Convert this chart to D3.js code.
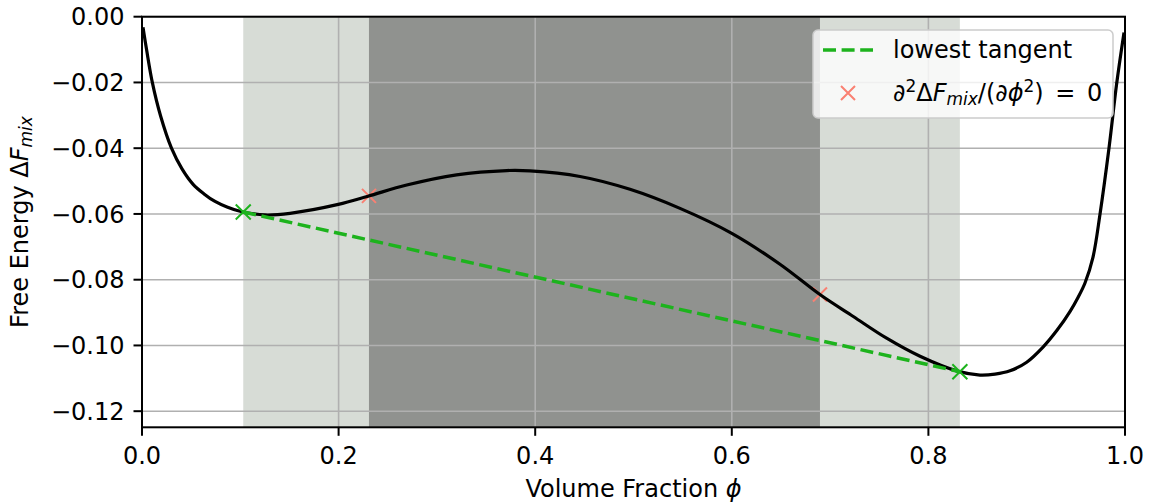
<!DOCTYPE html>
<html>
<head>
<meta charset="utf-8">
<script src="https://cdn.jsdelivr.net/npm/d3@7"></script>
<style>
body { margin:0; background:#fff; }
text { font-family: "DejaVu Sans", sans-serif; }
</style>
</head>
<body>
<div id="chart"></div>
<script>
// free energy curve
var phi = [0.001, 0.0048, 0.0105, 0.019, 0.030, 0.0407, 0.052, 0.0631, 0.0743, 0.0865, 0.0997, 0.125, 0.1506, 0.1997, 0.2300, 0.2693, 0.320, 0.371, 0.3947, 0.4456, 0.4964, 0.5473, 0.600, 0.649, 0.690, 0.7236, 0.7575, 0.7915, 0.8304, 0.8525, 0.8678, 0.883, 0.900, 0.9166, 0.9308, 0.944, 0.9522, 0.9593, 0.9674, 0.9746, 0.9837, 0.9915, 0.9990]
var freeEnergy = [-0.0032, -0.0103, -0.0200, -0.0303, -0.0400, -0.0463, -0.0510, -0.0539, -0.0562, -0.0579, -0.0592, -0.0603, -0.0598, -0.0571, -0.0546, -0.0512, -0.0481, -0.0468, -0.0469, -0.0486, -0.0525, -0.0583, -0.0659, -0.0753, -0.0846, -0.0912, -0.0978, -0.1033, -0.1079, -0.1090, -0.1087, -0.1077, -0.1051, -0.1005, -0.0954, -0.0897, -0.0854, -0.0810, -0.0732, -0.0600, -0.0400, -0.0204, -0.0048]

var binodalPhi = [0.103, 0.832]
var binodalF = [-0.0594, -0.1080]
var spinodalPhi = [0.2309, 0.6897]
var spinodalF = [-0.0545, -0.0845]

var xTicks = [0, 0.2, 0.4, 0.6, 0.8, 1.0]
var xTickLabels = ["0.0", "0.2", "0.4", "0.6", "0.8", "1.0"]
var yTicks = [0, -0.02, -0.04, -0.06, -0.08, -0.10, -0.12]
var yTickLabels = ["0.00", "\u22120.02", "\u22120.04", "\u22120.06", "\u22120.08", "\u22120.10", "\u22120.12"]

var green = "#1db31d"
var salmon = "#fa8072"

var W = 1151, H = 504
var pLeft = 142, pRight = 1125, pTop = 16.7, pBottom = 427.3

var x = d3.scaleLinear().domain([0, 1]).range([pLeft, pRight])
var y = d3.scaleLinear().domain([-0.1249, 0]).range([pBottom, pTop])

var svg = d3.select("#chart").append("svg").attr("width", W).attr("height", H)

svg.append("clipPath").attr("id", "clip")
	.append("rect").attr("x", pLeft).attr("y", pTop).attr("width", pRight - pLeft).attr("height", pBottom - pTop)

var plot = svg.append("g").attr("clip-path", "url(#clip)")

// two-phase region (binodal) and unstable region (spinodal)
plot.append("rect")
	.attr("x", x(binodalPhi[0])).attr("y", pTop)
	.attr("width", x(binodalPhi[1]) - x(binodalPhi[0])).attr("height", pBottom - pTop)
	.attr("fill", "#d7dcd6")
plot.append("rect")
	.attr("x", x(spinodalPhi[0])).attr("y", pTop)
	.attr("width", x(spinodalPhi[1]) - x(spinodalPhi[0])).attr("height", pBottom - pTop)
	.attr("fill", "#90928f")

// grid
plot.selectAll(".vgrid").data(xTicks).enter().append("line")
	.attr("x1", function(d){ return x(d) }).attr("x2", function(d){ return x(d) })
	.attr("y1", pTop).attr("y2", pBottom)
	.attr("stroke", "#b0b0b0").attr("stroke-width", 1.6)
plot.selectAll(".hgrid").data(yTicks).enter().append("line")
	.attr("y1", function(d){ return y(d) }).attr("y2", function(d){ return y(d) })
	.attr("x1", pLeft).attr("x2", pRight)
	.attr("stroke", "#b0b0b0").attr("stroke-width", 1.6)

function cross(g, cx, cy, r, color, w){
	g.append("path")
		.attr("d", "M" + (cx - r) + "," + (cy - r) + "L" + (cx + r) + "," + (cy + r) + "M" + (cx - r) + "," + (cy + r) + "L" + (cx + r) + "," + (cy - r))
		.attr("stroke", color).attr("stroke-width", w).attr("fill", "none")
}

// spinodal points
spinodalPhi.forEach(function(p, i){ cross(plot, x(p), y(spinodalF[i]), 7, salmon, 2) })

// free energy curve
var curve = phi.map(function(p, i){ return [p, freeEnergy[i]] })
var line = d3.line()
	.x(function(d){ return x(d[0]) })
	.y(function(d){ return y(d[1]) })
	.curve(d3.curveCatmullRom.alpha(0.5))
plot.append("path").datum(curve)
	.attr("d", line)
	.attr("fill", "none").attr("stroke", "#000").attr("stroke-width", 3.2)

// lowest tangent
plot.append("line")
	.attr("x1", x(binodalPhi[0])).attr("y1", y(binodalF[0]))
	.attr("x2", x(binodalPhi[1])).attr("y2", y(binodalF[1]))
	.attr("stroke", green).attr("stroke-width", 3.5).attr("stroke-dasharray", "13,5.6")

binodalPhi.forEach(function(p, i){ cross(plot, x(p), y(binodalF[i]), 7.5, green, 2) })

// axes frame
svg.append("rect").attr("x", pLeft).attr("y", pTop).attr("width", pRight - pLeft).attr("height", pBottom - pTop)
	.attr("fill", "none").attr("stroke", "#000").attr("stroke-width", 2)

// ticks
svg.selectAll(".xt").data(xTicks).enter().append("line")
	.attr("x1", function(d){ return x(d) }).attr("x2", function(d){ return x(d) })
	.attr("y1", pBottom).attr("y2", pBottom + 8.5)
	.attr("stroke", "#000").attr("stroke-width", 2)
svg.selectAll(".xl").data(xTicks).enter().append("text")
	.attr("x", function(d){ return x(d) }).attr("y", 464)
	.attr("text-anchor", "middle").attr("font-size", "24px")
	.text(function(d, i){ return xTickLabels[i] })
svg.selectAll(".yt").data(yTicks).enter().append("line")
	.attr("y1", function(d){ return y(d) }).attr("y2", function(d){ return y(d) })
	.attr("x1", pLeft - 8.5).attr("x2", pLeft)
	.attr("stroke", "#000").attr("stroke-width", 2)
svg.selectAll(".yl").data(yTicks).enter().append("text")
	.attr("x", 124.5).attr("y", function(d){ return y(d) + 8.7 })
	.attr("text-anchor", "end").attr("font-size", "24px")
	.text(function(d, i){ return yTickLabels[i] })

// axis labels
var xl = svg.append("text").attr("x", (pLeft + pRight) / 2).attr("y", 497)
	.attr("text-anchor", "middle").attr("font-size", "24px")
xl.append("tspan").text("Volume Fraction ")
xl.append("tspan").attr("font-style", "italic").text("\u03d5")

var yl = svg.append("text")
	.attr("transform", "translate(28," + (pTop + pBottom) / 2 + ") rotate(-90)")
	.attr("text-anchor", "middle").attr("font-size", "24px")
yl.append("tspan").text("Free Energy \u0394")
yl.append("tspan").attr("font-style", "italic").text("F")
yl.append("tspan").attr("font-style", "italic").attr("font-size", "17px").attr("dy", 4).text("mix")

// legend
var lg = svg.append("g")
lg.append("rect").attr("x", 813).attr("y", 30).attr("width", 300).attr("height", 88).attr("rx", 5)
	.attr("fill", "#fff").attr("fill-opacity", 0.8).attr("stroke", "#cccccc").attr("stroke-width", 1.5)
lg.append("line").attr("x1", 823).attr("x2", 873).attr("y1", 50).attr("y2", 50)
	.attr("stroke", green).attr("stroke-width", 3.5).attr("stroke-dasharray", "13,5.6")
cross(lg, 848, 93, 7, salmon, 2)
lg.append("text").attr("x", 893).attr("y", 58.3).attr("font-size", "24px").text("lowest tangent")
var t2 = lg.append("text").attr("x", 893).attr("y", 100.5).attr("font-size", "24px")
t2.append("tspan").text("\u2202")
t2.append("tspan").attr("font-size", "17px").attr("dy", -9).text("2")
t2.append("tspan").attr("dy", 9).text("\u0394")
t2.append("tspan").attr("font-style", "italic").text("F")
t2.append("tspan").attr("font-style", "italic").attr("font-size", "17px").attr("dy", 4).text("mix")
t2.append("tspan").attr("dy", -4).text("/(\u2202")
t2.append("tspan").attr("font-style", "italic").text("\u03d5")
t2.append("tspan").attr("font-size", "17px").attr("dy", -9).text("2")
t2.append("tspan").attr("dy", 9).attr("word-spacing", "4px").text(") = 0")
</script>
</body>
</html>
